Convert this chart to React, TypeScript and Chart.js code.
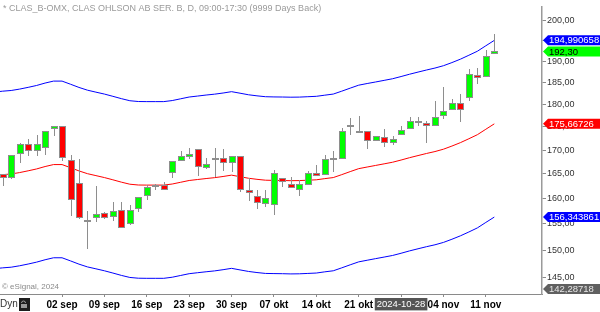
import React, { useEffect, useRef } from "react";
import { Chart, registerables } from "chart.js";

Chart.register(...registerables);

// ---- data (trading days) ----
const dates: string[] = [
  "2024-08-21", "2024-08-22", "2024-08-23", "2024-08-26", "2024-08-27", "2024-08-28", "2024-08-29", "2024-08-30",
  "2024-09-02", "2024-09-03", "2024-09-04", "2024-09-05", "2024-09-06",
  "2024-09-09", "2024-09-10", "2024-09-11", "2024-09-12", "2024-09-13",
  "2024-09-16", "2024-09-17", "2024-09-18", "2024-09-19", "2024-09-20",
  "2024-09-23", "2024-09-24", "2024-09-25", "2024-09-26", "2024-09-27",
  "2024-09-30", "2024-10-01", "2024-10-02", "2024-10-03", "2024-10-04",
  "2024-10-07", "2024-10-08", "2024-10-09", "2024-10-10", "2024-10-11",
  "2024-10-14", "2024-10-15", "2024-10-16", "2024-10-17", "2024-10-18",
  "2024-10-21", "2024-10-22", "2024-10-23", "2024-10-24", "2024-10-25",
  "2024-10-28", "2024-10-29", "2024-10-30", "2024-10-31", "2024-11-01",
  "2024-11-04", "2024-11-05", "2024-11-06", "2024-11-07", "2024-11-08",
  "2024-11-11", "2024-11-12",
];

const opens: (number | null)[] = [
  null, 164.9, 164.1, 169.2, 171.3, 169.8, 170.4, 174.6,
  175.1, 168.0, 163.1, 155.6, 156.1,
  157.2, 156.3, 157.7, 154.9, 158.0,
  160.5, 162.5, 162.7, 165.1, 167.7,
  168.5, 170.3, 166.2, 168.2, 168.3,
  167.2, 168.7, 161.8, 160.5, 159.0,
  158.8, 164.2, 162.9, 161.8, 162.7,
  165.3, 164.8, 168.2, 168.2, 175.1,
  173.9, 174.1, 172.0, 172.9, 171.5,
  173.2, 174.5, 176.1, 175.9, 175.2,
  177.3, 178.8, 180.4, 181.4, 186.8,
  186.2, 191.6,
];
const highs: (number | null)[] = [
  null, 165.0, 169.0, 171.6, 172.4, 173.2, 174.2, 175.3,
  175.2, 169.0, 168.2, 157.5, 162.5,
  157.3, 159.3, 159.3, 158.7, 160.3,
  162.8, 163.0, 163.4, 167.7, 169.9,
  170.4, 170.3, 168.4, 170.4, 170.2,
  168.7, 168.7, 164.1, 161.8, 161.8,
  165.8, 164.2, 164.3, 163.8, 165.6,
  166.8, 169.0, 169.8, 174.8, 177.0,
  177.5, 174.1, 173.0, 174.6, 173.0,
  175.3, 177.1, 177.1, 176.4, 180.7,
  183.9, 181.1, 182.4, 188.2, 188.4,
  192.6, 196.6,
];
const lows: (number | null)[] = [
  null, 162.5, 164.0, 167.3, 168.8, 168.7, 169.0, 173.0,
  167.8, 156.6, 156.0, 150.2, 155.3,
  155.9, 155.5, 154.2, 154.8, 157.4,
  159.7, 161.8, 161.8, 164.1, 167.7,
  168.1, 164.5, 166.1, 164.4, 165.6,
  165.4, 161.3, 159.5, 157.9, 158.4,
  156.8, 162.4, 162.2, 160.5, 162.7,
  164.8, 164.8, 165.4, 168.2, 173.2,
  173.9, 170.3, 172.0, 170.6, 171.0,
  173.2, 174.5, 175.3, 171.6, 175.2,
  176.8, 178.8, 176.0, 180.8, 184.7,
  186.2, 191.6,
];
const closes: (number | null)[] = [
  null, 164.1, 168.9, 171.4, 169.8, 171.4, 174.1, 175.2,
  168.3, 159.7, 156.1, 155.6, 157.0,
  156.1, 157.6, 154.2, 157.7, 160.3,
  162.3, 162.5, 161.8, 167.6, 168.8,
  169.2, 166.4, 167.0, 168.2, 167.2,
  168.7, 161.8, 161.1, 159.1, 160.2,
  165.3, 163.3, 162.2, 162.9, 165.1,
  164.8, 168.1, 168.2, 174.1, 175.1,
  173.9, 172.0, 173.0, 171.6, 172.3,
  174.4, 176.2, 176.1, 175.3, 177.1,
  178.5, 180.4, 178.7, 187.0, 186.2,
  191.2, 192.3,
];

// envelope lines
const middle: number[] = [
  164.68, 164.86, 165.0, 165.29, 165.65, 166.04, 166.54, 166.95,
  166.95, 166.3, 165.63, 165.06, 164.66,
  164.26, 163.8, 163.32, 162.9, 162.74,
  162.72, 162.72, 162.72, 162.94, 163.3,
  163.66, 163.86, 164.06, 164.24, 164.48,
  164.76, 164.44, 164.12, 163.9, 163.72,
  163.68, 163.66, 163.62, 163.64, 163.72,
  163.8, 164.04, 164.26, 164.86, 165.49,
  166.1, 166.44, 166.77, 167.1, 167.44,
  167.9, 168.39, 168.84, 169.28, 169.69,
  170.19, 170.86, 171.59, 172.43, 173.3,
  174.49, 175.66726,
];
const upper: number[] = [
  182.79, 182.99, 183.15, 183.47, 183.87, 184.3, 184.86, 185.31,
  185.31, 184.59, 183.85, 183.22, 182.77,
  182.33, 181.82, 181.29, 180.82, 180.64,
  180.62, 180.62, 180.62, 180.86, 181.26,
  181.66, 181.88, 182.11, 182.31, 182.57,
  182.88, 182.53, 182.17, 181.93, 181.73,
  181.68, 181.66, 181.62, 181.64, 181.73,
  181.82, 182.08, 182.33, 182.99, 183.69,
  184.37, 184.75, 185.11, 185.48, 185.86,
  186.37, 186.91, 187.41, 187.9, 188.36,
  188.91, 189.65, 190.46, 191.4, 192.36,
  193.68, 194.990658,
];
const lower: number[] = [
  146.57, 146.73, 146.85, 147.11, 147.43, 147.78, 148.22, 148.59,
  148.59, 148.01, 147.41, 146.9, 146.55,
  146.19, 145.78, 145.35, 144.98, 144.84,
  144.82, 144.82, 144.82, 145.02, 145.34,
  145.66, 145.84, 146.01, 146.17, 146.39,
  146.64, 146.35, 146.07, 145.87, 145.71,
  145.68, 145.66, 145.62, 145.64, 145.71,
  145.78, 146.0, 146.19, 146.73, 147.29,
  147.83, 148.13, 148.43, 148.72, 149.02,
  149.43, 149.87, 150.27, 150.66, 151.02,
  151.47, 152.07, 152.72, 153.46, 154.24,
  155.3, 156.343861,
];

const tickDates: string[] = [
  "2024-09-02", "2024-09-09", "2024-09-16", "2024-09-23", "2024-09-30", "2024-10-07",
  "2024-10-14", "2024-10-21", "2024-10-28", "2024-11-04", "2024-11-11",
];
const tickLabels: string[] = [
  "02 sep", "09 sep", "16 sep", "23 sep", "30 sep", "07 okt",
  "14 okt", "21 okt", "2024-10-28", "04 nov", "11 nov",
];
const highlightDate = "2024-10-28";
const yTicks: number[] = [145, 150, 155, 160, 165, 170, 175, 180, 185, 190, 195, 200];
const yMin = 142.01;
const yMax = 203.45;
const xMin = 0.6815;
const xMax = 64.627;
const bottomValue = 142.28718;
const titleText = "* CLAS_B-OMX, CLAS OHLSON AB SER. B, D, 09:00-17:30 (9999 Days Back)";
const copyrightText = "© eSignal, 2024";

const FONT = '"Liberation Sans", Arial, sans-serif';
const GREEN = "#00ff00";
const RED = "#ff0000";
const BLUE = "#0000ff";
const CANDLE_GRAY = "#8e8e8e";

const fmt = (v: number, d: number) => v.toFixed(d).replace(".", ",");

const candlePlugin = {
  id: "candles",
  afterDatasetsDraw(chart: any) {
    const { ctx, chartArea } = chart;
    const xs = chart.scales.x;
    const ys = chart.scales.y;
    ctx.save();
    ctx.beginPath();
    ctx.rect(chartArea.left, chartArea.top, chartArea.right - chartArea.left, chartArea.bottom - chartArea.top);
    ctx.clip();
    for (let k = 0; k < dates.length; k++) {
      const o = opens[k], h = highs[k], l = lows[k], c = closes[k];
      if (o == null || h == null || l == null || c == null) continue;
      const cx = Math.round(xs.getPixelForValue(k));
      const yo = ys.getPixelForValue(o);
      const yc = ys.getPixelForValue(c);
      const yh = Math.round(ys.getPixelForValue(h));
      const yl = Math.round(ys.getPixelForValue(l));
      ctx.fillStyle = CANDLE_GRAY;
      ctx.fillRect(cx, yh, 1, Math.max(1, yl - yh));
      if (o === c) {
        ctx.fillRect(cx - 3, Math.round(yo) - 1, 7, 2);
      } else {
        const top = Math.round(Math.min(yo, yc));
        const bot = Math.round(Math.max(yo, yc));
        const hh = Math.max(3, bot - top);
        ctx.fillStyle = CANDLE_GRAY;
        ctx.fillRect(cx - 3, top, 7, hh);
        ctx.fillStyle = c > o ? GREEN : RED;
        ctx.fillRect(cx - 2, top + 1, 5, hh - 2);
      }
    }
    ctx.restore();
  },
};

const overlayPlugin = {
  id: "overlay",
  afterDraw(chart: any) {
    const { ctx, chartArea } = chart;
    const ys = chart.scales.y;
    ctx.save();
    // title
    ctx.font = `9px ${FONT}`;
    ctx.fillStyle = "#9a9a9a";
    ctx.textAlign = "left";
    ctx.textBaseline = "alphabetic";
    ctx.fillText(titleText, 3, 11);
    // copyright
    ctx.font = `8px ${FONT}`;
    ctx.fillStyle = "#8a8a8a";
    ctx.fillText(copyrightText, 2, 289);
    // Dyn + icon
    ctx.font = `10px ${FONT}`;
    ctx.fillStyle = "#333";
    ctx.textBaseline = "middle";
    ctx.fillText("Dyn", 0, 304);
    ctx.fillStyle = "#1e1e1e";
    ctx.fillRect(19, 298, 11, 13);
    ctx.strokeStyle = "#9a9a9a";
    ctx.lineWidth = 1;
    ctx.beginPath();
    ctx.arc(23.5, 303, 2, Math.PI, 0);
    ctx.stroke();
    ctx.fillStyle = "#9a9a9a";
    ctx.fillRect(21, 304, 6, 4);

    // value tags on the price axis
    const lastIdx = dates.length - 1;
    const tags = [
      { v: upper[lastIdx], d: 6, bg: BLUE, fg: "#ffffff" },
      { v: closes[lastIdx] as number, d: 2, bg: GREEN, fg: "#000000" },
      { v: middle[lastIdx], d: 5, bg: RED, fg: "#ffffff" },
      { v: lower[lastIdx], d: 6, bg: BLUE, fg: "#ffffff" },
      { v: bottomValue, d: 5, bg: "#606060", fg: "#e6e6e6" },
    ];
    const x0 = chartArea.right + 1;
    ctx.font = `9.5px ${FONT}`;
    ctx.textAlign = "left";
    ctx.textBaseline = "middle";
    for (const t of tags) {
      let y = ys.getPixelForValue(t.v);
      y = Math.min(y, chartArea.bottom - 5);
      ctx.fillStyle = t.bg;
      ctx.beginPath();
      ctx.moveTo(x0, y);
      ctx.lineTo(x0 + 5, y - 5);
      ctx.lineTo(600, y - 5);
      ctx.lineTo(600, y + 5);
      ctx.lineTo(x0 + 5, y + 5);
      ctx.closePath();
      ctx.fill();
      ctx.fillStyle = t.fg;
      ctx.fillText(fmt(t.v, t.d), x0 + 6, y + 0.5);
    }
    ctx.restore();
  },
};

export default function App() {
  const ref = useRef<HTMLCanvasElement | null>(null);

  useEffect(() => {
    document.body.style.margin = "0";
    const canvas = ref.current;
    if (!canvas) return;
    const series = (arr: number[]) => arr.map((v, k) => ({ x: k, y: v }));
    const hlIdx = dates.indexOf(highlightDate);

    const chart = new Chart(canvas, {
      type: "line",
      data: {
        datasets: [
          { data: series(upper), borderColor: BLUE, borderWidth: 1, pointRadius: 0, tension: 0 },
          { data: series(middle), borderColor: RED, borderWidth: 1, pointRadius: 0, tension: 0 },
          { data: series(lower), borderColor: BLUE, borderWidth: 1, pointRadius: 0, tension: 0 },
        ],
      },
      options: {
        animation: false,
        responsive: false,
        events: [],
        layout: { padding: 0 },
        plugins: { legend: { display: false }, tooltip: { enabled: false }, title: { display: false } },
        scales: {
          x: {
            type: "linear",
            position: "bottom",
            min: xMin,
            max: xMax,
            afterFit: (s: any) => {
              s.height = 18;
            },
            afterBuildTicks: (s: any) => {
              s.ticks = tickDates.map((d) => ({ value: dates.indexOf(d) }));
            },
            grid: { display: true, drawOnChartArea: false, drawTicks: true, tickLength: 3, color: "#8a8a8a" },
            border: { display: true, color: "#8a8a8a", width: 1 },
            ticks: {
              autoSkip: false,
              maxRotation: 0,
              minRotation: 0,
              padding: 2,
              callback: (v: any) => {
                const i = tickDates.indexOf(dates[Number(v)]);
                return i >= 0 ? tickLabels[i] : "";
              },
              color: (c: any) => (c.tick && c.tick.value === hlIdx ? "#ffffff" : "#000000"),
              font: (c: any) =>
                c.tick && c.tick.value === hlIdx
                  ? { family: FONT, size: 9.5, weight: "normal" }
                  : { family: FONT, size: 10, weight: "bold" },
              showLabelBackdrop: (c: any) => !!(c.tick && c.tick.value === hlIdx),
              backdropColor: "#555555",
              backdropPadding: { top: 1, bottom: 0, left: 2, right: 2 },
            } as any,
          },
          y: {
            type: "logarithmic",
            position: "right",
            min: yMin,
            max: yMax,
            afterFit: (s: any) => {
              s.width = 58;
            },
            afterBuildTicks: (s: any) => {
              s.ticks = yTicks.map((v) => ({ value: v }));
            },
            grid: { display: true, drawOnChartArea: false, drawTicks: true, tickLength: 4, color: "#8a8a8a" },
            border: { display: true, color: "#9a9a9a", width: 1.5 },
            ticks: {
              padding: 1,
              color: "#333333",
              font: { family: FONT, size: 9 },
              callback: (v: any) => fmt(Number(v), 2),
            },
          },
        },
      } as any,
      plugins: [candlePlugin, overlayPlugin],
    });
    return () => chart.destroy();
  }, []);

  return (
    <div style={{ width: 600, height: 312, position: "relative", background: "#ffffff" }}>
      <canvas ref={ref} width={600} height={312} style={{ display: "block" }} />
    </div>
  );
}
